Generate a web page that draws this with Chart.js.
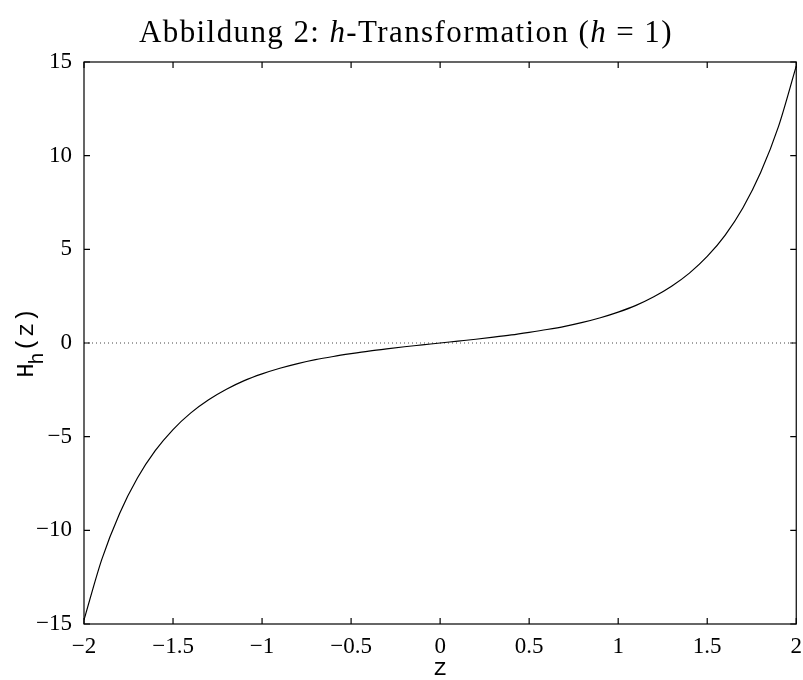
<!DOCTYPE html>
<html>
<head>
<meta charset="utf-8">
<script src="https://cdn.jsdelivr.net/npm/chart.js@4.4.0/dist/chart.umd.min.js"></script>
<style>
  html, body { margin: 0; padding: 0; background: #fff; }
  #wrap { width: 803px; height: 680px; position: relative; }
</style>
</head>
<body>
<div id="wrap"><canvas id="hChart" width="803" height="680"></canvas></div>
<script>
// z values and H_h(z) values
const zValues = [-2.0, -1.9, -1.8, -1.7, -1.6, -1.5, -1.4, -1.3, -1.2, -1.1, -1.0,
                 -0.9, -0.8, -0.7, -0.6, -0.5, -0.4, -0.3, -0.2, -0.1, 0.0,
                 0.1, 0.2, 0.3, 0.4, 0.5, 0.6, 0.7, 0.8, 0.9, 1.0,
                 1.1, 1.2, 1.3, 1.4, 1.5, 1.6, 1.7, 1.8, 1.9, 2.0];
const hValues = [-14.78, -11.55, -9.10, -7.21, -5.75, -4.62, -3.73, -3.03, -2.47, -2.01, -1.65,
                 -1.35, -1.10, -0.89, -0.72, -0.57, -0.43, -0.31, -0.20, -0.10, 0.0,
                 0.10, 0.20, 0.31, 0.43, 0.57, 0.72, 0.89, 1.10, 1.35, 1.65,
                 2.01, 2.47, 3.03, 3.73, 4.62, 5.75, 7.21, 9.10, 11.55, 14.78];
const zeroLine = [{ x: -2, y: 0 }, { x: 2, y: 0 }];
const xTicks = [-2, -1.5, -1, -0.5, 0, 0.5, 1, 1.5, 2];
const yTicks = [-15, -10, -5, 0, 5, 10, 15];

const SERIF = '"Liberation Serif", "Times New Roman", serif';
const MONO = '"Liberation Mono", "Courier New", monospace';

function fmt(v) {
    return v < 0 ? '\u2212' + String(-v) : String(v);
}

// Box, inward ticks on all four sides, title and axis labels
const framePlugin = {
    id: 'frame',
    afterDraw(chart) {
        const { ctx, chartArea: a, scales } = chart;
        const tl = 6;
        ctx.save();
        ctx.strokeStyle = '#000';
        ctx.lineWidth = 1.2;
        ctx.strokeRect(a.left, a.top, a.right - a.left, a.bottom - a.top);
        ctx.beginPath();
        xTicks.forEach(v => {
            const x = scales.x.getPixelForValue(v);
            ctx.moveTo(x, a.bottom); ctx.lineTo(x, a.bottom - tl);
            ctx.moveTo(x, a.top); ctx.lineTo(x, a.top + tl);
        });
        yTicks.forEach(v => {
            const y = scales.y.getPixelForValue(v);
            ctx.moveTo(a.left, y); ctx.lineTo(a.left + tl, y);
            ctx.moveTo(a.right, y); ctx.lineTo(a.right - tl, y);
        });
        ctx.stroke();

        // title with italic h
        const parts = [
            ['Abbildung 2: ', 'normal'],
            ['h', 'italic'],
            ['-Transformation (', 'normal'],
            ['h', 'italic'],
            [' = 1)', 'normal']
        ];
        const size = 31;
        ctx.letterSpacing = '1.4px';
        let total = 0;
        parts.forEach(p => {
            ctx.font = p[1] + ' ' + size + 'px ' + SERIF;
            total += ctx.measureText(p[0]).width;
        });
        let x = 406 - total / 2;
        ctx.fillStyle = '#000';
        ctx.textBaseline = 'alphabetic';
        ctx.textAlign = 'left';
        parts.forEach(p => {
            ctx.font = p[1] + ' ' + size + 'px ' + SERIF;
            ctx.fillText(p[0], x, 42);
            x += ctx.measureText(p[0]).width;
        });
        ctx.letterSpacing = '0px';

        // x label
        ctx.font = '24px ' + MONO;
        ctx.textAlign = 'center';
        ctx.fillText('z', (a.left + a.right) / 2, 675);

        // y label H_h(z), rotated
        ctx.translate(33, (a.top + a.bottom) / 2);
        ctx.rotate(-Math.PI / 2);
        ctx.textAlign = 'left';
        ctx.font = '24px ' + MONO;
        const wH = ctx.measureText('H').width;
        ctx.font = '20px ' + MONO;
        const wh = ctx.measureText('h').width;
        ctx.font = '24px ' + MONO;
        const wz = ctx.measureText('(z)').width;
        let yx = -(wH + wh + wz) / 2;
        ctx.fillText('H', yx, 0);
        yx += wH;
        ctx.font = '20px ' + MONO;
        ctx.fillText('h', yx - 1, 10);
        yx += wh;
        ctx.font = '24px ' + MONO;
        ctx.fillText('(z)', yx, 0);
        ctx.restore();
    }
};

document.addEventListener('DOMContentLoaded', function() {
    const ctx = document.getElementById('hChart');
    new Chart(ctx, {
        type: 'scatter',
        data: {
            datasets: [{
                data: zValues.map((z, i) => ({ x: z, y: hValues[i] })),
                showLine: true,
                borderColor: '#000',
                borderWidth: 1.2,
                pointRadius: 0,
                cubicInterpolationMode: 'monotone',
                fill: false
            }, {
                data: zeroLine,
                showLine: true,
                borderColor: '#444',
                borderWidth: 1,
                borderDash: [1, 3],
                pointRadius: 0,
                fill: false
            }]
        },
        options: {
            responsive: false,
            animation: false,
            devicePixelRatio: 1,
            layout: { padding: { top: 62, right: 4, left: 0, bottom: 0 } },
            plugins: {
                legend: { display: false },
                tooltip: { enabled: false },
                title: { display: false }
            },
            scales: {
                x: {
                    type: 'linear',
                    min: -2, max: 2,
                    afterBuildTicks: s => { s.ticks = xTicks.map(v => ({ value: v })); },
                    afterFit: s => { s.height = 56; },
                    grid: { display: false },
                    border: { display: false },
                    ticks: {
                        color: '#000',
                        padding: 1,
                        autoSkip: false,
                        font: { family: SERIF, size: 23 },
                        maxRotation: 0,
                        callback: v => fmt(v)
                    }
                },
                y: {
                    min: -15, max: 15,
                    afterBuildTicks: s => { s.ticks = yTicks.map(v => ({ value: v })); },
                    afterFit: s => { s.width = 84; },
                    grid: { display: false },
                    border: { display: false },
                    ticks: {
                        color: '#000',
                        padding: 4,
                        autoSkip: false,
                        font: { family: SERIF, size: 23 },
                        callback: v => fmt(v)
                    }
                }
            }
        },
        plugins: [framePlugin]
    });
});
</script>
</body>
</html>
